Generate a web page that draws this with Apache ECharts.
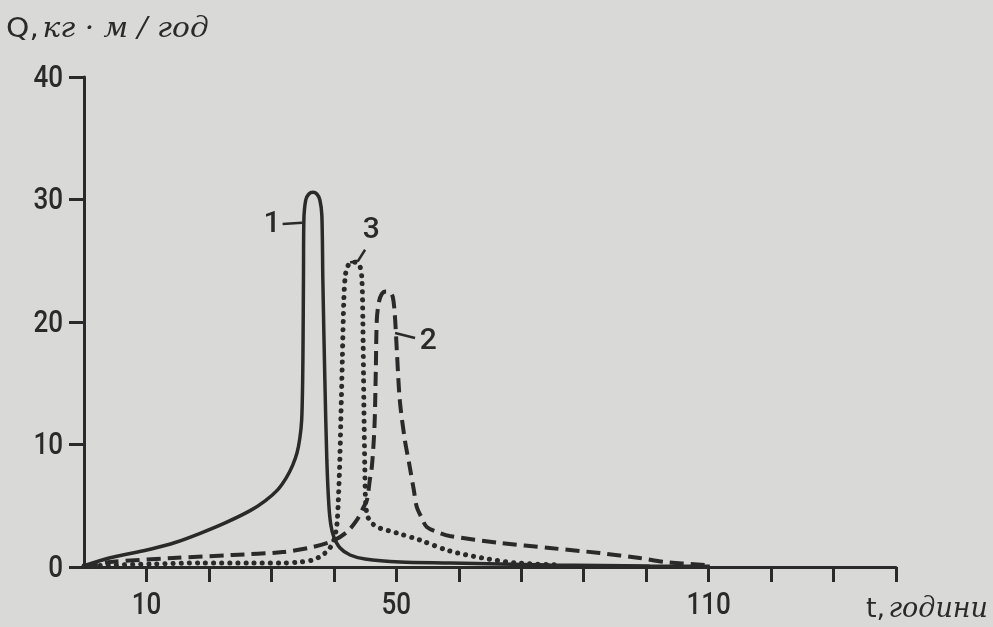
<!DOCTYPE html>
<html><head><meta charset="utf-8">
<script src="https://cdn.jsdelivr.net/npm/echarts@6/dist/echarts.min.js"></script>
<style>html,body{margin:0;padding:0;background:#d9d9d7;}#c{width:993px;height:627px;}</style>
</head><body><div id="c"></div>
<script>
// x ticks (every 10 h) and the labels printed under them in the source figure
const xTickValues = [10, 20, 30, 40, 50, 60, 70, 80, 90, 100, 110, 120, 130];
const xTickLabels = ['10', '', '', '', '50', '', '', '', '', '110', '', '', ''];
const yTickValues = [0, 10, 20, 30, 40];
const yTickLabels = ['0', '10', '20', '30', '40'];

// curve 1 (solid): [t, Q]
const curve1 = [[0,0.1],[4.2,0.75],[7.4,1.1],[10.6,1.45],[14.6,2.0],[18.6,2.75],[22.6,3.6],[26.6,4.6],[29.0,5.4],[31.0,6.3],[32.4,7.3],[33.4,8.3],[34.1,9.3],[34.55,10.5],[34.85,12.0],[35.0,15.0],[35.08,19.0],[35.14,24.0],[35.2,28.3],[35.5,29.96],[36.0,30.45],[36.64,30.6],[37.28,30.45],[37.76,29.96],[38.08,28.7],[38.24,23.4],[38.56,15.3],[38.88,8.7],[39.2,5.06],[39.52,3.43],[40.0,2.45],[41.0,1.55],[42.6,0.98],[45.0,0.65],[50.6,0.41],[58.6,0.33],[74.6,0.16],[90.6,0.08],[100.2,0.06]];
// curve 2 (dashed)
const curve2 = [[0,0.08],[4.2,0.41],[14.2,0.73],[23.8,0.98],[31.8,1.22],[36.6,1.63],[39.8,2.12],[42.1,2.86],[43.7,3.84],[44.6,4.73],[45.3,5.47],[45.76,7.1],[46.08,8.16],[46.4,10.4],[46.56,12.24],[46.72,16.1],[46.88,20.2],[47.2,21.6],[47.68,22.3],[48.32,22.5],[48.96,22.45],[49.44,22.04],[49.76,20.6],[50.08,17.7],[50.56,13.6],[51.36,10.4],[52.16,8.16],[52.8,6.29],[53.28,4.9],[54.08,4.0],[54.88,3.27],[56.96,2.78],[58.56,2.53],[66.56,1.96],[74.56,1.55],[82.56,1.14],[88.96,0.73],[92.96,0.41],[99.36,0.16]];
// curve 3 (dotted)
const curve3 = [[0,0.08],[10.6,0.24],[18.6,0.33],[26.6,0.33],[31.8,0.33],[34.6,0.41],[36.6,0.57],[38.2,0.98],[39.36,1.55],[40.0,2.2],[40.48,3.43],[40.72,5.47],[40.96,8.73],[41.12,12.0],[41.36,16.9],[41.6,21.8],[41.84,23.8],[42.24,24.57],[42.88,24.9],[43.52,24.86],[44.16,24.57],[44.48,23.6],[44.64,20.2],[44.8,13.6],[44.96,7.9],[45.12,5.06],[45.44,4.08],[46.24,3.51],[47.36,3.18],[50.08,2.78],[53.76,2.2],[58.56,1.31],[63.84,0.73],[69.28,0.33],[76.16,0.16]];

// curve number annotations (in data coordinates)
const curveNames = ['1', '2', '3'];
const curveNameAt = [[30.1, 28.0], [55.1, 18.4], [46.0, 27.5]];
const curveLeaders = [
  [[31.8, 28.0], [34.9, 28.1]],
  [[49.8, 19.1], [53.0, 18.7]],
  [[45.0, 25.9], [43.9, 25.0], [42.6, 24.85]]
];

const INK = '#2a2a2a';
const NUM_FONT = 'Roboto, "Liberation Sans", sans-serif';

const chart = echarts.init(document.getElementById('c'), null, {renderer: 'canvas'});
const lineBase = {type: 'line', showSymbol: false, symbol: 'none', smooth: 0.3, animation: false, z: 3};
chart.setOption({
  backgroundColor: '#d9d9d7',
  animation: false,
  grid: {left: 84, right: 97, top: 77, bottom: 60, containLabel: false},
  xAxis: {
    type: 'value', min: 0, max: 130, interval: 10,
    axisLine: {show: true, lineStyle: {color: INK, width: 3}},
    axisTick: {show: true, inside: false, length: 15, lineStyle: {color: INK, width: 3}, customValues: xTickValues},
    axisLabel: {show: false},
    splitLine: {show: false}
  },
  yAxis: {
    type: 'value', min: 0, max: 40, interval: 10,
    axisLine: {show: true, lineStyle: {color: INK, width: 3}},
    axisTick: {show: true, inside: false, length: 15, lineStyle: {color: INK, width: 3}},
    axisLabel: {show: false},
    splitLine: {show: false}
  },
  series: [
    Object.assign({}, lineBase, {name: '1', data: curve1, lineStyle: {color: INK, width: 3.5, type: 'solid'}}),
    Object.assign({}, lineBase, {name: '2', data: curve2, lineStyle: {color: INK, width: 4, type: [14, 7], cap: 'butt'}}),
    Object.assign({}, lineBase, {name: '3', data: curve3, lineStyle: {color: INK, width: 5, type: [0.1, 8], cap: 'round'}})
  ]
});

const px = p => chart.convertToPixel({gridIndex: 0}, p);
const g = [];
const numStyle = (t, align) => ({text: t, fill: INK, font: '500 31px ' + NUM_FONT, align: align, verticalAlign: 'middle'});
// tick labels (drawn condensed like the source)
yTickValues.forEach((v, i) => {
  const p = px([0, v]);
  g.push({type: 'text', x: p[0] - 21, y: p[1] + 2, scaleX: 0.84, z: 10, style: numStyle(yTickLabels[i], 'right')});
});
xTickValues.forEach((v, i) => {
  if (!xTickLabels[i]) return;
  const p = px([v, 0]);
  g.push({type: 'text', x: p[0], y: p[1] + 39, scaleX: 0.84, z: 10, style: numStyle(xTickLabels[i], 'center')});
});
curveNames.forEach((n, i) => {
  const p = px(curveNameAt[i]);
  g.push({type: 'text', x: p[0], y: p[1], z: 10,
    style: {text: n, fill: INK, font: '500 30px ' + NUM_FONT, align: 'center', verticalAlign: 'middle'}});
  const pts = curveLeaders[i].map(px);
  g.push({type: 'polyline', z: 10, shape: {points: pts}, style: {stroke: INK, lineWidth: 2.5, fill: null}});
});
// axis titles
g.push({type: 'text', x: 6, y: 30, scaleX: 1.1, z: 10, style: {
  text: '{u|Q,} {i|кг · м / год}', verticalAlign: 'middle', align: 'left',
  rich: {
    u: {fontSize: 27, fontFamily: '"DejaVu Sans",sans-serif', fill: INK, fontWeight: 'normal'},
    i: {fontSize: 27, fontFamily: '"DejaVu Serif",serif', fontStyle: 'italic', fill: INK}
  }}});
g.push({type: 'text', x: 988, y: 610, z: 10, style: {
  text: '{u|t,} {i|години}', verticalAlign: 'middle', align: 'right',
  rich: {
    u: {fontSize: 27, fontFamily: '"DejaVu Sans",sans-serif', fill: INK},
    i: {fontSize: 27, fontFamily: '"DejaVu Serif",serif', fontStyle: 'italic', fill: INK}
  }}});
chart.setOption({graphic: g});
</script>
</body></html>
